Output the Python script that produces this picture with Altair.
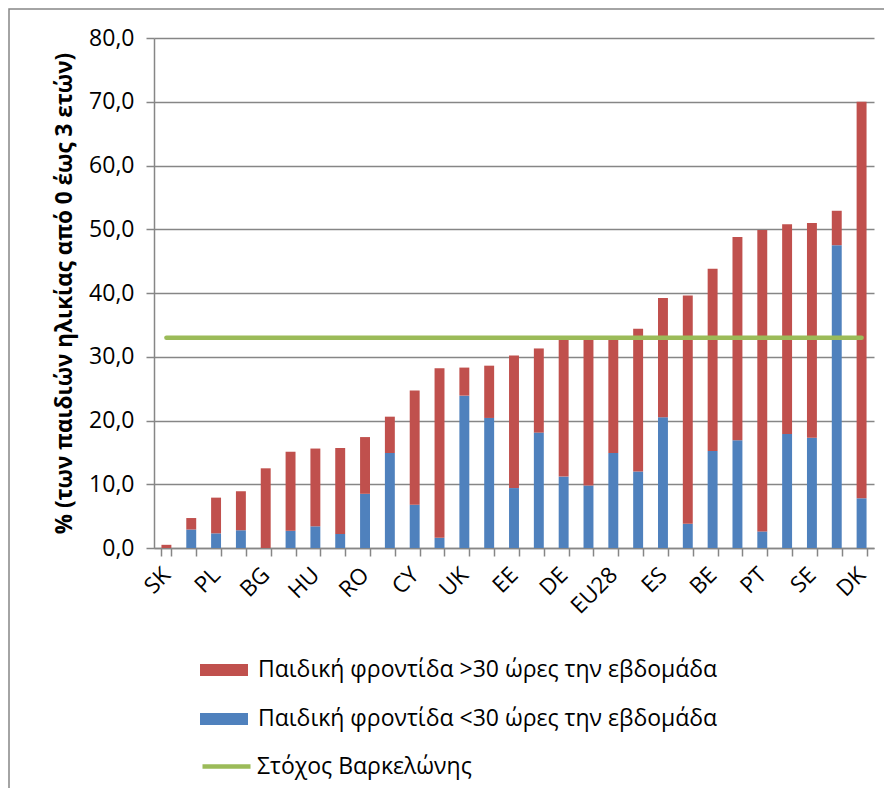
import altair as alt
import pandas as pd

# ---- data ----
countries = ["SK", "CZ", "PL", "LT", "BG", "HR", "HU", "EL", "RO", "MT",
             "CY", "LV", "UK", "AT", "EE", "IE", "DE", "IT", "EU28", "FI",
             "ES", "SI", "BE", "FR", "PT", "LU", "SE", "NL", "DK"]
under30 = [0.0, 2.9, 2.3, 2.8, 0.0, 2.7, 3.4, 2.2, 8.5, 14.9,
           6.8, 1.6, 23.9, 20.4, 9.4, 18.1, 11.2, 9.8, 14.9, 12.0,
           20.5, 3.8, 15.2, 16.9, 2.6, 17.9, 17.3, 47.5, 7.8]
over30 = [0.5, 1.8, 5.6, 6.1, 12.5, 12.4, 12.2, 13.5, 8.9, 5.7,
          17.9, 26.6, 4.4, 8.2, 20.8, 13.2, 21.6, 23.1, 18.1, 22.4,
          18.7, 35.8, 28.6, 31.9, 47.3, 32.9, 33.7, 5.4, 62.2]
target = [33.0] * 29
shown_labels = ["SK", "PL", "BG", "HU", "RO", "CY", "UK", "EE", "DE",
                "EU28", "ES", "BE", "PT", "SE", "DK"]
y_ticks = [0, 10, 20, 30, 40, 50, 60, 70, 80]

S_OVER = "Παιδική φροντίδα >30 ώρες την εβδομάδα"
S_UNDER = "Παιδική φροντίδα <30 ώρες την εβδομάδα"
S_TARGET = "Στόχος Βαρκελώνης"
Y_TITLE = "% (των παιδιών ηλικίας από 0 έως 3 ετών)"

rows = []
for c, u, o in zip(countries, under30, over30):
    rows.append({"country": c, "series": S_UNDER, "value": u, "ord": 0})
    rows.append({"country": c, "series": S_OVER, "value": o, "ord": 1})
bars_df = pd.DataFrame(rows)
line_df = pd.DataFrame({"country": countries, "series": S_TARGET, "value": target})
frame_df = pd.DataFrame({"k": [0]})

FONT = "Open Sans"
GRAY = "#868686"

label_list = "[" + ",".join("'" + s + "'" for s in shown_labels) + "]"
x_axis = alt.Axis(
    title=None, labelAngle=-45, labelAlign="right", labelBaseline="middle",
    labelFontSize=22.5, labelFont=FONT, labelColor="black", labelPadding=15,
    labelOverlap=False, tickBand="extent", tickSize=8, tickColor=GRAY,
    tickWidth=1.5, domainColor=GRAY, domainWidth=1.5, grid=False,
    labelExpr="indexof(" + label_list + ", datum.value) >= 0 ? datum.value : ''",
)
x_scale = alt.Scale(domain=countries, paddingInner=0.6, paddingOuter=0.3)

y_axis = alt.Axis(
    title=Y_TITLE, titleFont=FONT, titleFontSize=22.5, titleFontWeight="bold",
    titleColor="black", titlePadding=12, values=y_ticks,
    labelExpr="replace(format(datum.value, '.1f'), '.', ',')",
    labelFont=FONT, labelFontSize=23, labelColor="black", labelPadding=12,
    tickSize=8, tickColor=GRAY, tickWidth=1.5, domainColor=GRAY,
    domainWidth=1.5, grid=True, gridColor=GRAY, gridWidth=1.5,
)
y_scale = alt.Scale(domain=[0, 80], nice=False)

frame = alt.Chart(frame_df).mark_rect(
    filled=False, stroke=GRAY, strokeWidth=1.5
).encode(
    x=alt.value(-145), x2=alt.value(2000), y=alt.value(-29), y2=alt.value(2000)
)

bars = alt.Chart(bars_df).mark_bar().encode(
    x=alt.X("country:N", scale=x_scale, axis=x_axis),
    y=alt.Y("value:Q", stack="zero", scale=y_scale, axis=y_axis),
    color=alt.Color(
        "series:N",
        scale=alt.Scale(domain=[S_OVER, S_UNDER], range=["#C0504D", "#4F81BD"]),
        legend=alt.Legend(
            title=None, orient="none", legendX=46, legendY=608,
            symbolType="M-1,-0.25L1,-0.25L1,0.25L-1,0.25Z", symbolSize=2304,
            symbolStrokeWidth=0, symbolOpacity=1, labelFont=FONT,
            labelFontSize=23, labelColor="black", labelLimit=1000,
            labelOffset=10, rowPadding=13,
        ),
    ),
    order=alt.Order("ord:Q"),
)

line = alt.Chart(line_df).mark_line(strokeWidth=4.5, strokeCap="round").encode(
    x=alt.X("country:N", scale=x_scale, axis=x_axis),
    y=alt.Y("value:Q", scale=y_scale, axis=y_axis),
    stroke=alt.Stroke(
        "series:N",
        scale=alt.Scale(domain=[S_TARGET], range=["#9BBB59"]),
        legend=alt.Legend(
            title=None, orient="none", legendX=46, legendY=702,
            symbolType="stroke", symbolSize=2304, symbolStrokeWidth=4.5,
            labelFont=FONT, labelFontSize=23, labelColor="black",
            labelLimit=1000, labelOffset=4,
        ),
    ),
)

chart = alt.layer(frame, bars, line).properties(
    width=720, height=510,
    padding={"left": 146, "top": 30, "right": 10, "bottom": 240},
    autosize=alt.AutoSizeParams(type="none"),
    background="white",
).configure_view(stroke=None)

chart.save("out.html", embed_options={"renderer": "svg", "actions": False})
